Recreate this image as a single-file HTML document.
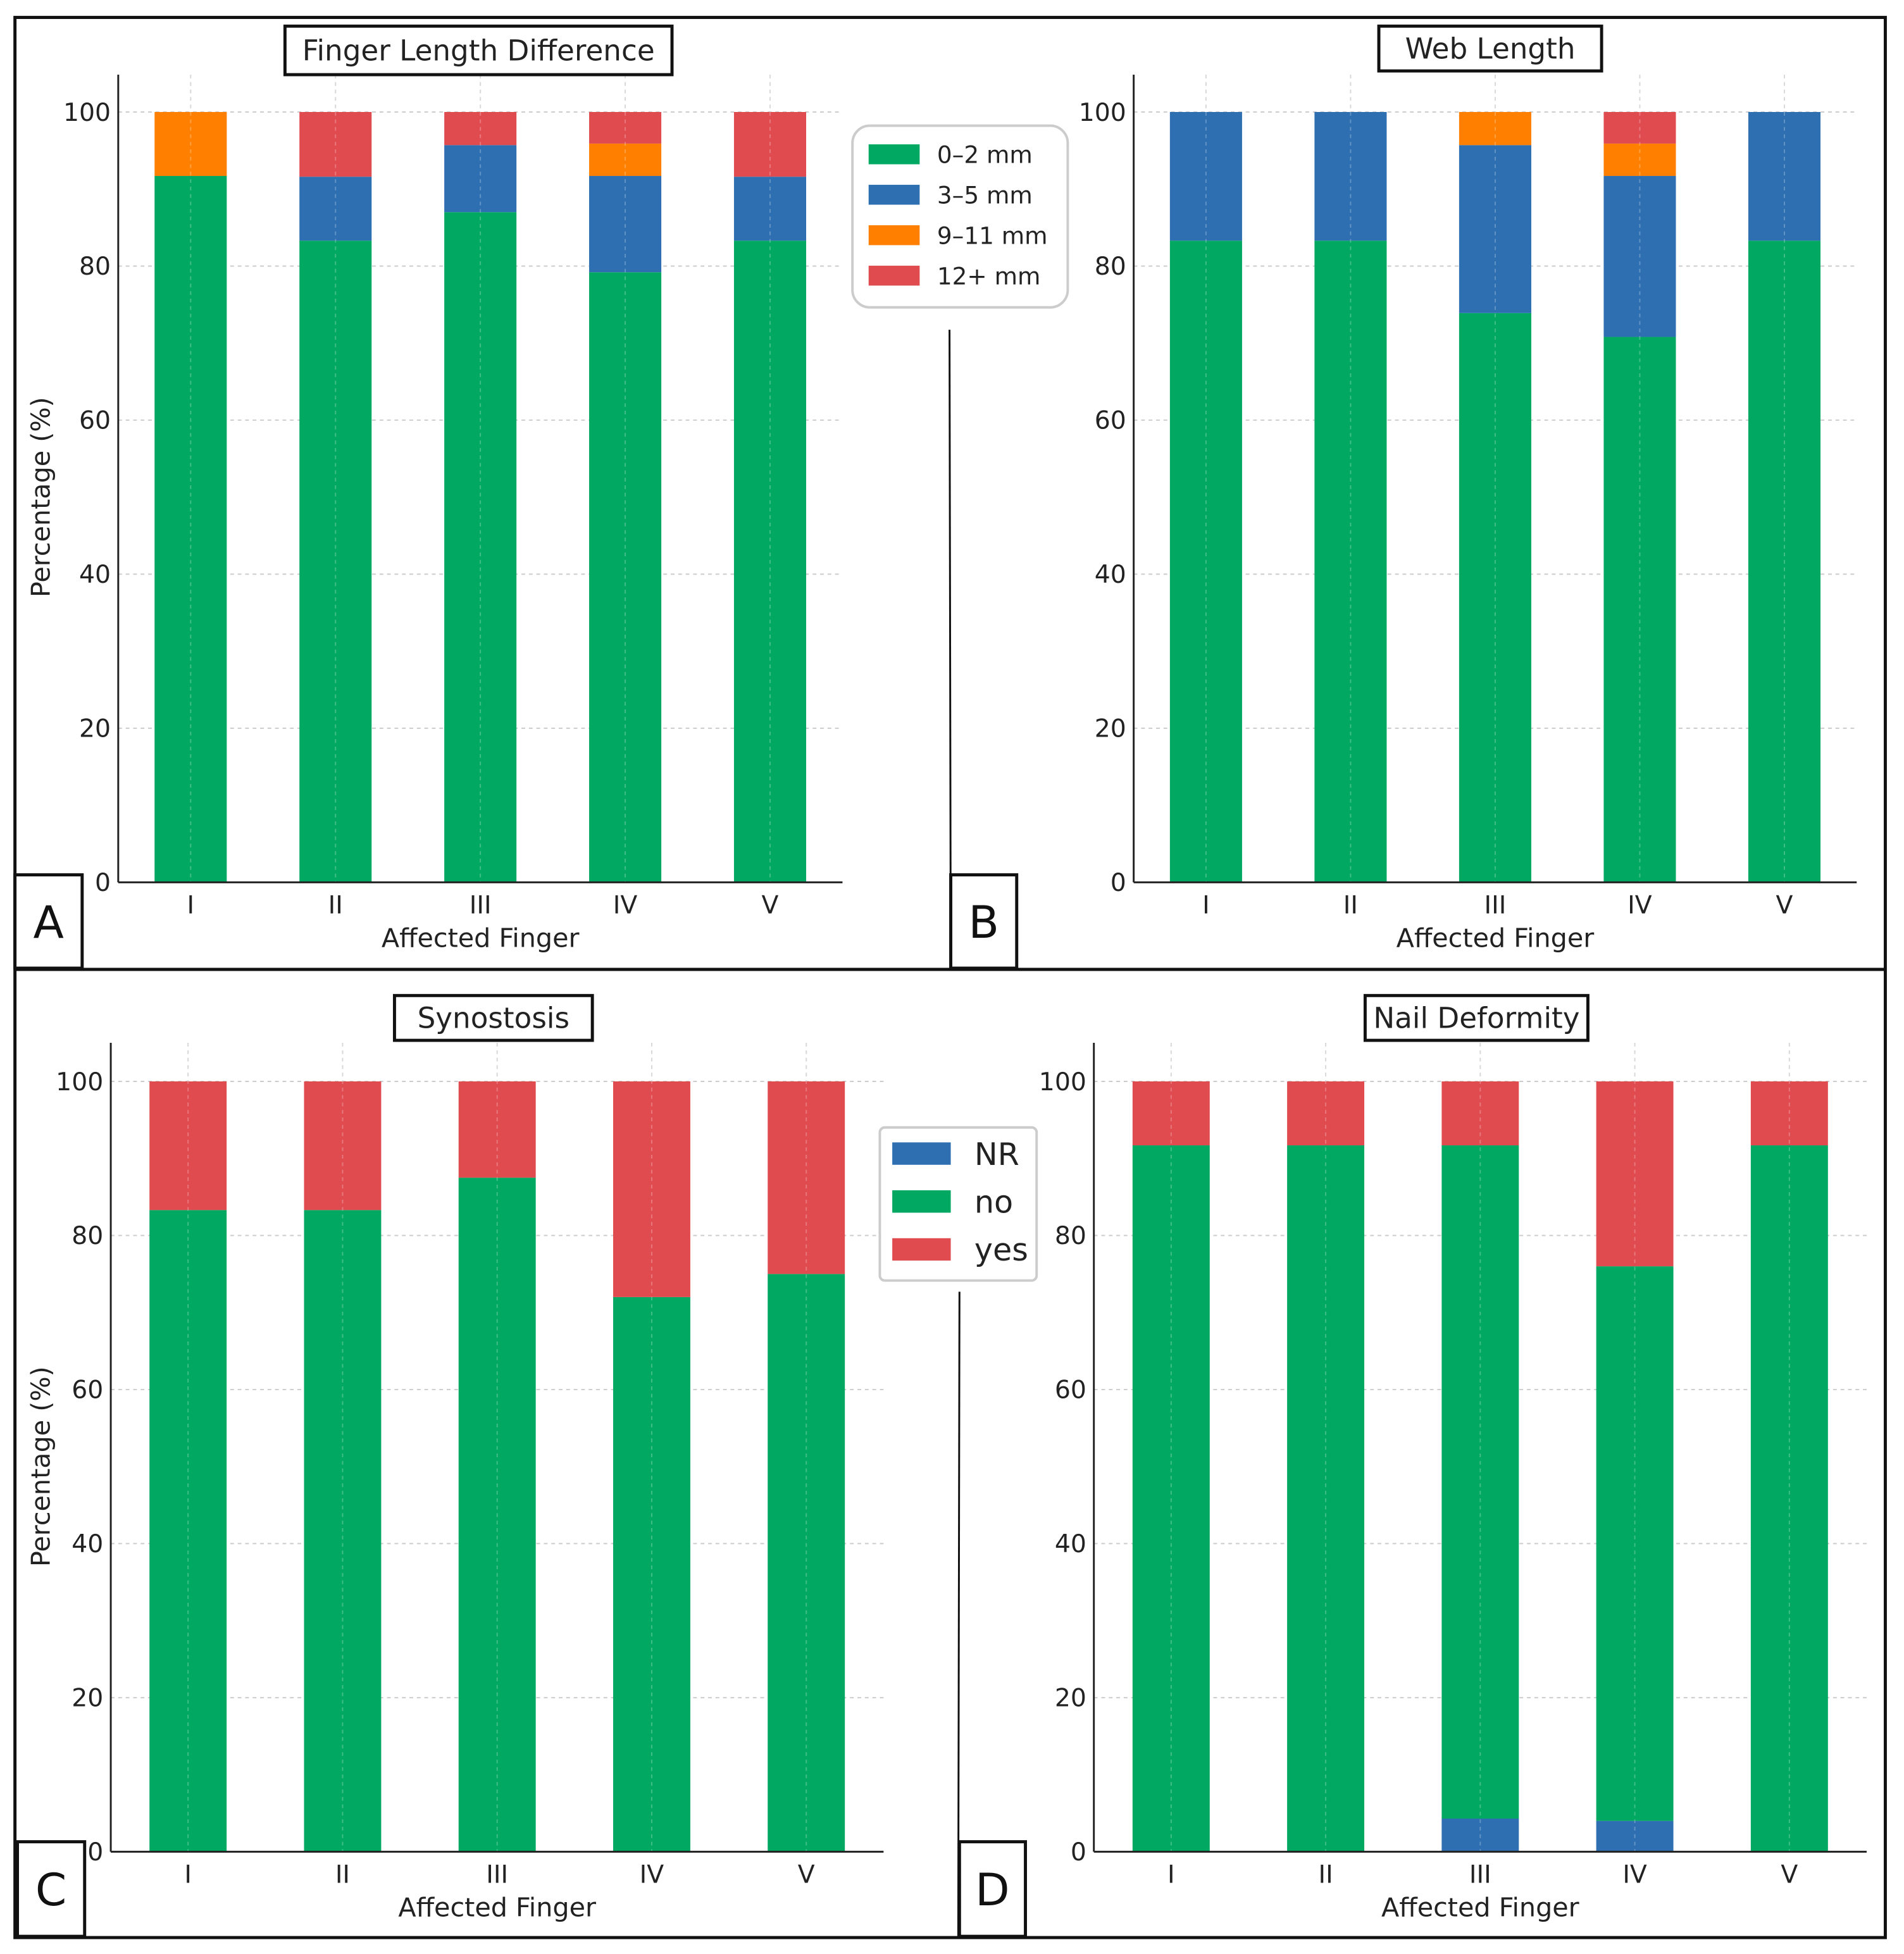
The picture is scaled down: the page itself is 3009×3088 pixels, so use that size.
<!DOCTYPE html>
<html><head><meta charset="utf-8"><style>
html,body{margin:0;padding:0;background:#fff;width:3009px;height:3088px;overflow:hidden}
svg{display:block;font-family:"DejaVu Sans","Liberation Sans",sans-serif}
</style></head><body>
<svg id="fig" xmlns="http://www.w3.org/2000/svg" width="3009" height="3088" viewBox="0 0 1530 1570.2">
<rect x="0" y="0" width="1530" height="1571" fill="#fff"/>
<rect x="12" y="14" width="1503" height="1543" fill="none" stroke="#111" stroke-width="2.5"/>
<line x1="12" y1="779" x2="1515" y2="779" stroke="#111" stroke-width="2.5"/>
<line x1="763" y1="265" x2="764" y2="779" stroke="#111" stroke-width="1.5"/>
<line x1="771" y1="1038" x2="770" y2="1557" stroke="#111" stroke-width="1.5"/>
<g id="charts"></g>
</svg>
<script>
const categories = ["I","II","III","IV","V"];
const yTicks = [0,20,40,60,80,100];
// Panel A: Finger Length Difference
const aGreen = [91.7,83.3,87.0,79.2,83.3];
const aBlue = [0,8.3,8.7,12.5,8.3];
const aOrange = [8.3,0,0,4.2,0];
const aRed = [0,8.4,4.3,4.1,8.4];
// Panel B: Web Length
const bGreen = [83.3,83.3,73.9,70.8,83.3];
const bBlue = [16.7,16.7,21.8,20.9,16.7];
const bOrange = [0,0,4.3,4.2,0];
const bRed = [0,0,0,4.1,0];
// Panel C: Synostosis
const cNR = [0,0,0,0,0];
const cNo = [83.3,83.3,87.5,72.0,75.0];
const cYes = [16.7,16.7,12.5,28.0,25.0];
// Panel D: Nail Deformity
const dNR = [0,0,4.3,4.0,0];
const dNo = [91.7,91.7,87.4,72.0,91.7];
const dYes = [8.3,8.3,8.3,24.0,8.3];

const GREEN="#00a862", BLUE="#2e6fb2", ORANGE="#ff8000", RED="#e04b50";
const NS="http://www.w3.org/2000/svg";
const root=document.getElementById('charts');
function mk(tag,attrs,parent,text){const e=document.createElementNS(NS,tag);for(const k in attrs)e.setAttribute(k,attrs[k]);if(text!==undefined)e.textContent=text;(parent||root).appendChild(e);return e;}

const panels=[
 {id:'a',title:'Finger Length Difference',tb:[229,21,311,39],L:95,R:677,T:60,y100:90,y0:709,bw:58,ylabel:true,letter:'A',lb:[12,703,54,75],
  series:[[aGreen,GREEN,'green'],[aBlue,BLUE,'blue'],[aOrange,ORANGE,'orange'],[aRed,RED,'red']]},
 {id:'b',title:'Web Length',tb:[1108,21,179,36],L:911,R:1492,T:60,y100:90,y0:709,bw:58,ylabel:false,letter:'B',lb:[764,703,53,75],
  series:[[bGreen,GREEN,'green'],[bBlue,BLUE,'blue'],[bOrange,ORANGE,'orange'],[bRed,RED,'red']]},
 {id:'c',title:'Synostosis',tb:[317,800,159,36],L:89,R:710,T:838,y100:869,y0:1488,bw:62,ylabel:true,letter:'C',lb:[14,1480,54,76],
  series:[[cNR,BLUE,'nr'],[cNo,GREEN,'no'],[cYes,RED,'yes']]},
 {id:'d',title:'Nail Deformity',tb:[1097,800,179,36],L:879,R:1500,T:838,y100:869,y0:1488,bw:62,ylabel:false,letter:'D',lb:[771,1480,53,76],
  series:[[dNR,BLUE,'nr'],[dNo,GREEN,'no'],[dYes,RED,'yes']]}
];

panels.forEach(p=>{
 const g=mk('g',{});
 
 
 const y=v=>p.y0+(p.y100-p.y0)*v/100;
 const step=(p.R-p.L)/5;
 const x=i=>p.L+step*(i+0.5);
 yTicks.forEach(t=>{
  if(t>0){const gl=mk('line',{x1:p.L,x2:p.R,y1:y(t),y2:y(t),stroke:'#ccc','stroke-width':1,'stroke-dasharray':'3,3'},g);
   
   }
 });
 categories.forEach((c,i)=>{
  const gl=mk('line',{x1:x(i),x2:x(i),y1:p.T,y2:p.y0,stroke:'#ccc','stroke-width':1,'stroke-dasharray':'3,3'},g);
  
  
 });
 categories.forEach((c,i)=>{
  let acc=0;
  p.series.forEach(s=>{
   const v=s[0][i];
   if(v>0){
    const r=mk('rect',{x:x(i)-p.bw/2,y:y(acc+v),width:p.bw,height:y(acc)-y(acc+v),fill:s[1]},g);
    
    
   }
   acc+=v;
  });
 });
 categories.forEach((c,i)=>{
  const gl=mk('line',{x1:x(i),x2:x(i),y1:p.T,y2:p.y0,stroke:'rgba(255,255,255,0.25)','stroke-width':1,'stroke-dasharray':'3,3'},g);
  
  
 });
 const ax=mk('line',{x1:p.L,x2:p.L,y1:p.T,y2:p.y0,stroke:'#222','stroke-width':1.5},g);
 
 
 const bx=mk('line',{x1:p.L,x2:p.R,y1:p.y0,y2:p.y0,stroke:'#222','stroke-width':1.5},g);
 
 
 yTicks.forEach(t=>{
  const tl=mk('text',{x:p.L-6,y:y(t)+7,'text-anchor':'end','font-size':20,fill:'#222'},g,String(t));
  
  
 });
 categories.forEach((c,i)=>{
  const tl=mk('text',{x:x(i),y:p.y0+25,'text-anchor':'middle','font-size':20,fill:'#222'},g,c);
  
  
 });
 const xl=mk('text',{x:(p.L+p.R)/2,y:p.y0+52,'text-anchor':'middle','font-size':21,fill:'#222'},g,'Affected Finger');
 
 
 if(p.ylabel){
  const cy=(p.y0+p.y100)/2;
  const yl=mk('text',{x:40,y:cy,'text-anchor':'middle','font-size':21,fill:'#222',transform:'rotate(-90 40 '+cy+')'},g,'Percentage (%)');
  
  
 }
 const tb=mk('rect',{x:p.tb[0],y:p.tb[1],width:p.tb[2],height:p.tb[3],fill:'#fff',stroke:'#111','stroke-width':2.5},g);
 
 
 const tt=mk('text',{x:p.tb[0]+p.tb[2]/2,y:p.tb[1]+p.tb[3]/2+8,'text-anchor':'middle','font-size':23,fill:'#222'},g,p.title);
 
 
 const lb=mk('rect',{x:p.lb[0],y:p.lb[1],width:p.lb[2],height:p.lb[3],fill:'#fff',stroke:'#111','stroke-width':2.5},g);
 
 
 const lt=mk('text',{x:p.lb[0]+p.lb[2]/2,y:p.lb[1]+p.lb[3]/2+13,'text-anchor':'middle','font-size':36,fill:'#111'},g,p.letter);
 
 
});

const legA=[["0–2 mm",GREEN],["3–5 mm",BLUE],["9–11 mm",ORANGE],["12+ mm",RED]];
const ga=mk('g',{});


mk('rect',{x:685,y:101,width:173,height:146,rx:14,fill:'#fff',stroke:'#ccc','stroke-width':2},ga);
legA.forEach((l,i)=>{
 const yy=124+i*32.5;
 const sw=mk('rect',{x:698,y:yy-8,width:41,height:16,fill:l[1]},ga);
 
 
 const t=mk('text',{x:753,y:yy+7,'font-size':19,fill:'#222'},ga,l[0]);
 
 
});
const legC=[["NR",BLUE],["no",GREEN],["yes",RED]];
const gc=mk('g',{});


mk('rect',{x:707,y:906,width:126,height:123,rx:4,fill:'#fff',stroke:'#ccc','stroke-width':2},gc);
legC.forEach((l,i)=>{
 const yy=927+i*38.5;
 const sw=mk('rect',{x:717,y:yy-9,width:47,height:18,fill:l[1]},gc);
 
 
 const t=mk('text',{x:783,y:yy+9,'font-size':25,fill:'#222'},gc,l[0]);
 
 
});
</script>
</body></html>
